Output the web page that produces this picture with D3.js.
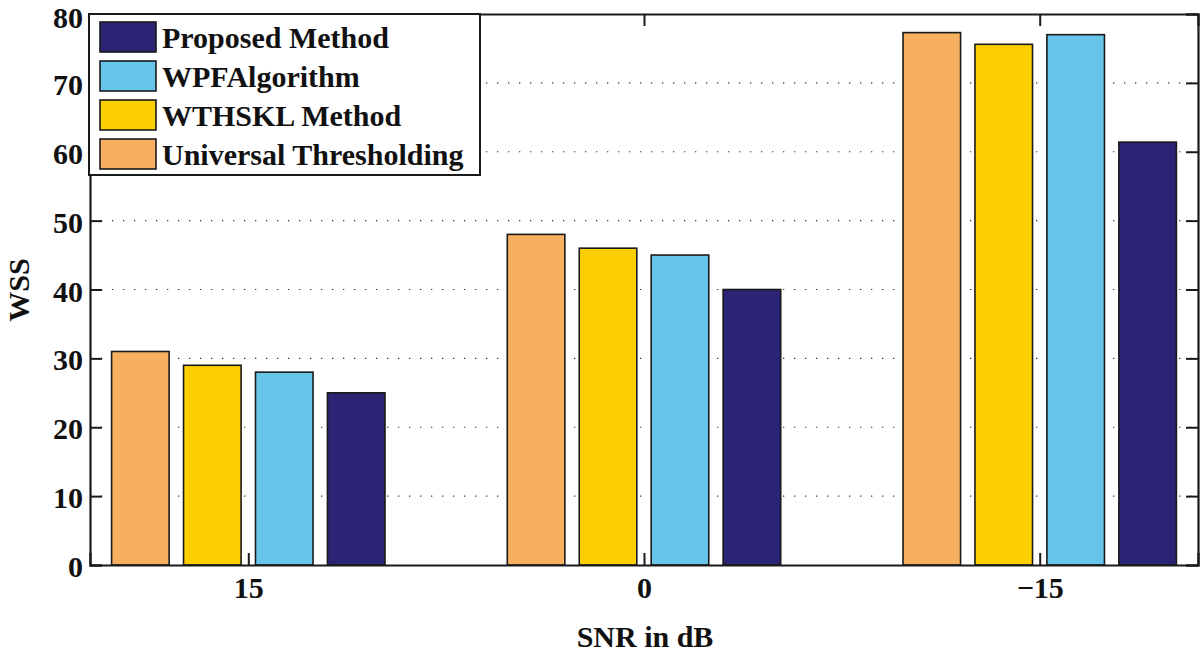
<!DOCTYPE html>
<html><head><meta charset="utf-8">
<script src="https://cdn.jsdelivr.net/npm/d3@7"></script>
<style>body{margin:0;background:#fff}svg{display:block}</style>
</head><body><svg id="c" width="1200" height="656"></svg>
<script>
const categories = ["15", "0", "\u221215"];
const seriesNames = ["Universal Thresholding", "WTHSKL Method", "WPFAlgorithm", "Proposed Method"];
const universal = [31, 48, 77.3];
const wthskl = [29, 46, 75.6];
const wpf = [28, 45, 77.0];
const proposed = [25, 40, 61.4];
const yTicks = [0, 10, 20, 30, 40, 50, 60, 70, 80];
const colors = ["#f7b05f", "#fecf00", "#66c5e8", "#2b2373"];
const legendOrder = [3, 2, 1, 0];

const series = [universal, wthskl, wpf, proposed];
const svg = d3.select("#c");
const L = 90, R = 1198, T = 14, B = 565;
const font = "'Liberation Serif','Times New Roman',serif";
const fs = "30px";
const x = d3.scaleLinear().domain([0.6, 3.4]).range([L, R]);
const y = d3.scaleLinear().domain([0, 80]).range([B, T]);
const groupW = Math.min(0.8, 4 / 5.5);
const step = groupW / 4;
const barW = step * 0.8;

// grid
svg.append("g").selectAll("line").data(yTicks.filter(d => d > 0 && d < 80)).join("line")
  .attr("x1", L).attr("x2", R).attr("y1", d => y(d)).attr("y2", d => y(d))
  .attr("stroke", "#333").attr("stroke-width", 1.2).attr("stroke-dasharray", "1.3,9.7");

// bars
series.forEach((vals, s) => {
  svg.append("g").selectAll("rect").data(vals).join("rect")
    .attr("x", (d, i) => x(i + 1 + (s - 1.5) * step - barW / 2))
    .attr("width", x(1 + barW) - x(1))
    .attr("y", d => y(d)).attr("height", d => y(0) - y(d))
    .attr("fill", colors[s]).attr("stroke", "#1a1a1a").attr("stroke-width", 1.6);
});

// axes
const yAxis = d3.axisLeft(y).tickValues(yTicks).tickSize(-12).tickPadding(7);
const gy = svg.append("g").attr("transform", `translate(${L},0)`).call(yAxis);
const yAxisR = d3.axisRight(y).tickValues(yTicks).tickSize(-12).tickFormat("");
const gyr = svg.append("g").attr("transform", `translate(${R},0)`).call(yAxisR);
const xAxis = d3.axisBottom(x).tickValues([1, 2, 3]).tickFormat((d, i) => categories[i]).tickSize(-12).tickPadding(12);
const gx = svg.append("g").attr("transform", `translate(0,${B})`).call(xAxis);
const xAxisT = d3.axisTop(x).tickValues([1, 2, 3]).tickFormat("").tickSize(-12);
const gxt = svg.append("g").attr("transform", `translate(0,${T})`).call(xAxisT);
[gy, gyr, gx, gxt].forEach(g => {
  g.select(".domain").attr("stroke", "#1a1a1a").attr("stroke-width", 2.2);
  g.selectAll(".tick line").attr("stroke", "#1a1a1a").attr("stroke-width", 2);
  g.selectAll("text").attr("fill", "#111").style("font-family", font).style("font-weight", "bold").style("font-size", fs);
});
gx.selectAll(".tick text").attr("dy", "0.71em");
// keep tick labels inside the canvas: baseline at least 27px from top
gy.selectAll(".tick text").attr("dy", d => Math.max(11.6, 27 - y(d)) + "px");

// axis labels
svg.append("text").attr("x", 645).attr("y", 647).attr("text-anchor", "middle")
  .style("font-family", font).style("font-weight", "bold").style("font-size", fs).attr("fill", "#111").text("SNR in dB");
svg.append("text").attr("transform", "translate(29,290) rotate(-90)").attr("text-anchor", "middle")
  .style("font-family", font).style("font-weight", "bold").style("font-size", fs).attr("fill", "#111").text("WSS");

// legend
const lg = svg.append("g");
lg.append("rect").attr("x", 89).attr("y", 14).attr("width", 391).attr("height", 161)
  .attr("fill", "#fff").attr("stroke", "#1a1a1a").attr("stroke-width", 2);
legendOrder.forEach((s, k) => {
  const cy = 37 + k * 39;
  lg.append("rect").attr("x", 100).attr("y", cy - 15).attr("width", 56).attr("height", 30)
    .attr("fill", colors[s]).attr("stroke", "#1a1a1a").attr("stroke-width", 1.6);
  lg.append("text").attr("x", 162).attr("y", cy).attr("dy", "0.35em")
    .style("font-family", font).style("font-weight", "bold").style("font-size", fs).attr("fill", "#111").text(seriesNames[s]);
});
</script></body></html>
